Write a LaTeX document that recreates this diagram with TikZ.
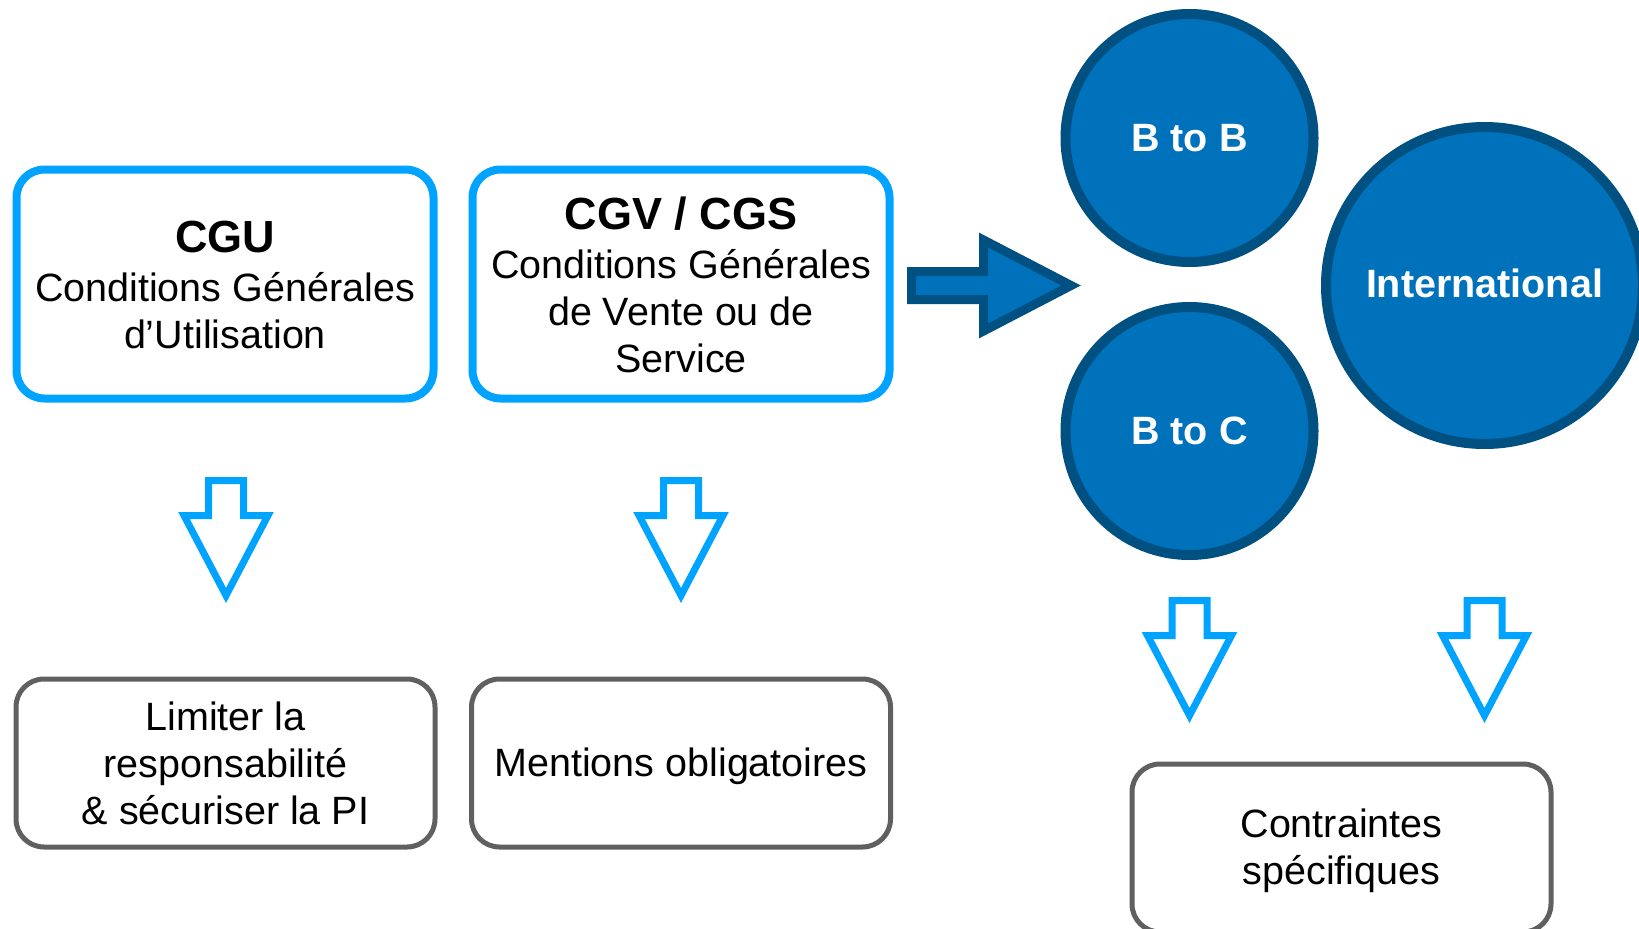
\documentclass[tikz,border=0pt]{standalone}
\usepackage{fontspec}
\setmainfont{Liberation Sans}
\definecolor{lblue}{RGB}{0,163,255}
\definecolor{cfill}{RGB}{0,114,187}
\definecolor{cborder}{RGB}{0,80,130}
\definecolor{gborder}{RGB}{96,96,96}
\newcommand\regfont{\fontsize{39.5}{47}\selectfont}
\newcommand\ttlfont{\fontsize{45}{51}\selectfont\bfseries}
\tikzset{
  topbox/.style={draw=lblue, line width=8pt, rounded corners=28pt, minimum width=417pt, minimum height=229pt, inner sep=0pt, outer sep=0pt},
  botbox/.style={draw=gborder, line width=5pt, rounded corners=28pt, minimum width=419pt, minimum height=168pt, inner sep=0pt, outer sep=0pt},
  txt/.style={align=center, font=\regfont, text=black, inner sep=0pt},
  circ/.style={circle, fill=cfill, draw=cborder, line width=10pt, inner sep=0pt, outer sep=0pt, text=white, font=\regfont\bfseries},
  darrowline/.style={draw=lblue, fill=white, line width=7pt, miter limit=10},
  bigarrow/.style={draw=cborder, fill=cfill, line width=9pt, miter limit=10},
  downarr/.pic={\draw[darrowline] (-17.5,0) -- (-17.5,35) -- (-42,35) -- (0,115) -- (42,35) -- (17.5,35) -- (17.5,0) -- cycle;}
}
\begin{document}
\begin{tikzpicture}[x=1pt,y=-1pt]
\useasboundingbox (0,0) rectangle (1639,929);
\clip (0,0) rectangle (1639,929);
% top boxes
\node[topbox] (cgu) at (225,284) {};
\node[txt] (cguT) at ([yshift=-1pt]cgu.center) {{\ttlfont CGU}\\[2pt]Conditions Générales\\d’Utilisation};
\node[topbox] (cgv) at (681,284) {};
\node[txt] (cgvT) at ([yshift=-1pt]cgv.center) {{\ttlfont CGV / CGS}\\[2pt]Conditions Générales\\de Vente ou de\\Service};
% circles
\node[circ, minimum size=248pt] (btob) at (1189.5,138) {B to B};
\node[circ, minimum size=248pt] (btoc) at (1189.5,431) {B to C};
\node[circ, minimum size=317pt] (intl) at (1484.5,285.5) {};
\node[txt, text=white, font=\regfont\bfseries] (intlT) at ([yshift=2pt]intl.center) {International};
% big right arrow
\coordinate (bigA) at (911.5,285.5);
\draw[bigarrow] (bigA) ++(0,-14) -- ++(72,0) -- ++(0,-31.5) -- ++(87.5,45.5) -- ++(-87.5,45.5) -- ++(0,-31.5) -- ++(-72,0) -- cycle;
% down arrows
\coordinate (a1) at (226,480.5);
\coordinate (a2) at (681,480.5);
\coordinate (a3) at (1189.5,600.5);
\coordinate (a4) at (1484.5,600.5);
\pic at (a1) {downarr};
\pic at (a2) {downarr};
\pic at (a3) {downarr};
\pic at (a4) {downarr};
% bottom boxes
\node[botbox] (lim) at (225.5,763) {};
\node[txt] (limT) at (lim.center) {Limiter la\\responsabilité\\\& sécuriser la PI};
\node[botbox] (ment) at (681,763) {};
\node[txt] (mentT) at ([yshift=-3pt]ment.center) {Mentions obligatoires};
\node[botbox] (contr) at (1341.5,848) {};
\node[txt] (contrT) at ([yshift=-3pt]contr.center) {Contraintes\\spécifiques};
\end{tikzpicture}
\end{document}
